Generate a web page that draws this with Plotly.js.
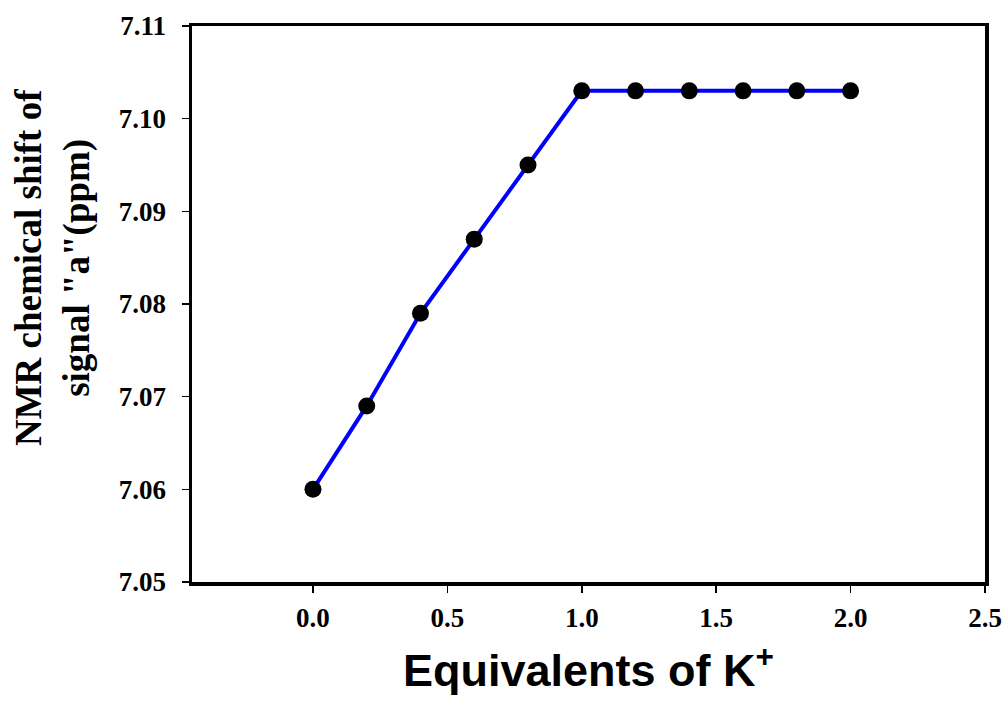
<!DOCTYPE html>
<html>
<head>
<meta charset="utf-8">
<script src="https://cdn.plot.ly/plotly-3.0.1.min.js"></script>
<style>html,body{margin:0;padding:0;background:#fff;}#chart{width:1006px;height:707px;}</style>
</head>
<body>
<div id="chart"></div>
<script>
const equivalents = [0.0, 0.2, 0.4, 0.6, 0.8, 1.0, 1.2, 1.4, 1.6, 1.8, 2.0];
const shiftPpm = [7.060, 7.069, 7.079, 7.087, 7.095, 7.103, 7.103, 7.103, 7.103, 7.103, 7.103];
const xTickVals = [0.0, 0.5, 1.0, 1.5, 2.0, 2.5];
const yTickVals = [7.05, 7.06, 7.07, 7.08, 7.09, 7.10, 7.11];
const xTitle = 'Equivalents of K<sup>+</sup>';
const yTitleLines = ['NMR chemical shift of', 'signal "a"(ppm)'];

const tickFont = {family: '"Liberation Serif", "Times New Roman", serif', size: 27, color: '#000', weight: 'bold'};

const trace = {
  x: equivalents,
  y: shiftPpm,
  type: 'scatter',
  mode: 'lines+markers',
  line: {color: '#0000FF', width: 4},
  marker: {color: '#000', size: 17, line: {width: 0}},
  hoverinfo: 'skip'
};

const layout = {
  width: 1006,
  height: 707,
  margin: {l: 192, r: 21, t: 26, b: 125},
  paper_bgcolor: '#fff',
  plot_bgcolor: '#fff',
  showlegend: false,
  xaxis: {
    range: [-0.45, 2.5],
    tickvals: xTickVals,
    tickformat: '.1f',
    ticks: 'outside',
    ticklen: 7,
    tickwidth: 1.5,
    tickcolor: '#000',
    showline: true,
    linewidth: 3.5,
    linecolor: '#000',
    mirror: true,
    showgrid: false,
    zeroline: false,
    tickfont: tickFont,
    ticklabelstandoff: 2
  },
  yaxis: {
    range: [7.05, 7.11],
    tickvals: yTickVals,
    tickformat: '.2f',
    ticks: 'outside',
    ticklen: 7,
    tickwidth: 1.5,
    tickcolor: '#000',
    showline: true,
    linewidth: 3.5,
    linecolor: '#000',
    mirror: true,
    showgrid: false,
    zeroline: false,
    tickfont: tickFont,
    ticklabelstandoff: 10
  },
  annotations: [
    {
      text: '<b>' + xTitle + '</b>',
      xref: 'paper', yref: 'paper',
      x: 0.5, y: -0.153,
      xanchor: 'center', yanchor: 'middle',
      showarrow: false,
      font: {family: '"Liberation Sans", Arial, sans-serif', size: 45, color: '#000'}
    },
    {
      text: yTitleLines.map(s => '<b>' + s + '</b>').join('<br>'),
      xref: 'paper', yref: 'paper',
      x: -0.175, y: 0.565,
      xanchor: 'center', yanchor: 'middle',
      textangle: -90,
      showarrow: false,
      font: {family: '"Liberation Serif", "Times New Roman", serif', size: 37, color: '#000'}
    }
  ]
};

Plotly.newPlot('chart', [trace], layout, {displayModeBar: false, staticPlot: true});
</script>
</body>
</html>
